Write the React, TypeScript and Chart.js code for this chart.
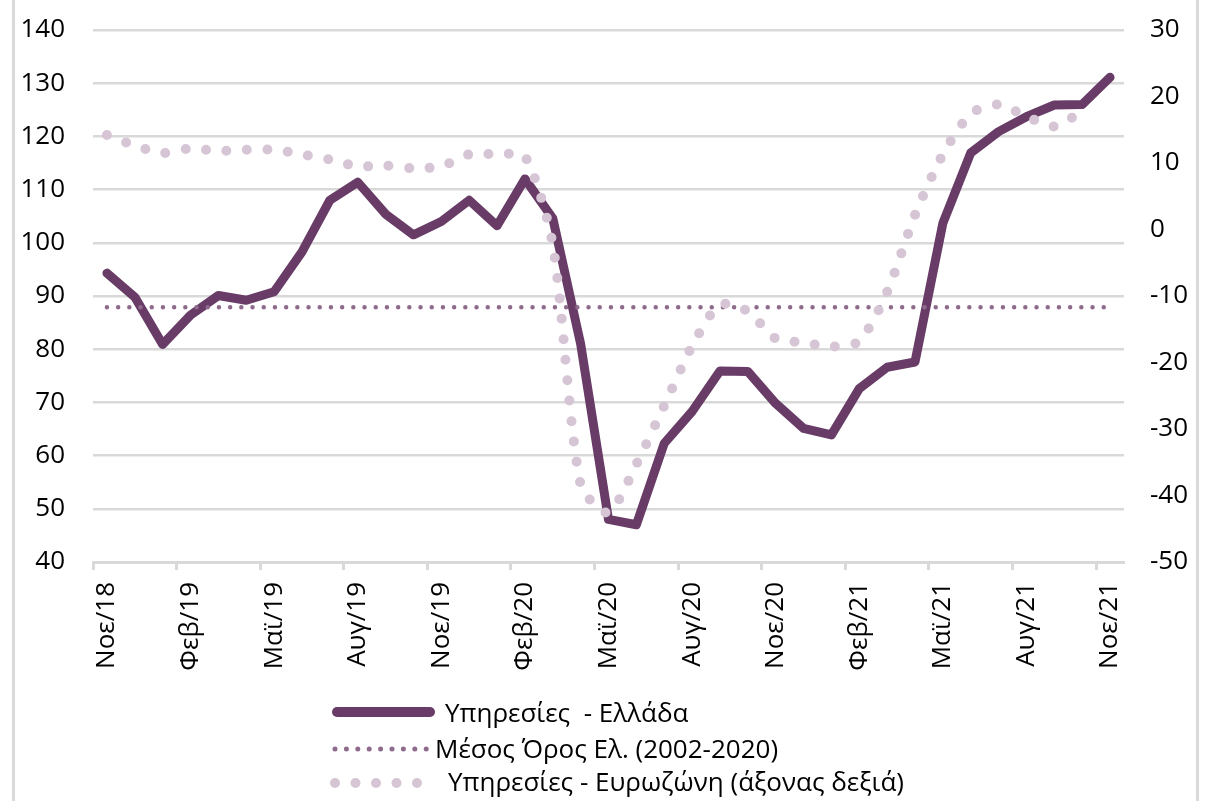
import React, { useEffect, useRef } from 'react';
import { Chart, registerables } from 'chart.js';

Chart.register(...registerables);

const categories: string[] = [
  'Νοε/18', 'Δεκ/18',
  'Ιαν/19', 'Φεβ/19', 'Μαρ/19', 'Απρ/19', 'Μαϊ/19', 'Ιουν/19', 'Ιουλ/19', 'Αυγ/19', 'Σεπ/19', 'Οκτ/19', 'Νοε/19', 'Δεκ/19',
  'Ιαν/20', 'Φεβ/20', 'Μαρ/20', 'Απρ/20', 'Μαϊ/20', 'Ιουν/20', 'Ιουλ/20', 'Αυγ/20', 'Σεπ/20', 'Οκτ/20', 'Νοε/20', 'Δεκ/20',
  'Ιαν/21', 'Φεβ/21', 'Μαρ/21', 'Απρ/21', 'Μαϊ/21', 'Ιουν/21', 'Ιουλ/21', 'Αυγ/21', 'Σεπ/21', 'Οκτ/21', 'Νοε/21',
];

// Υπηρεσίες - Ελλάδα (left axis)
const greeceServices: number[] = [
  94.3, 89.8,
  80.9, 86.4, 90.1, 89.2, 90.8, 98.3, 108.0, 111.4, 105.4, 101.5, 104.0, 108.0,
  103.2, 112.0, 104.6, 81.0, 48.0, 47.0, 62.3, 68.3, 75.9, 75.8, 69.8, 65.1,
  63.9, 72.6, 76.6, 77.6, 103.7, 116.9, 120.9, 123.7, 125.9, 126.0, 131.1,
];

// Μέσος Όρος Ελ. (2002-2020) (left axis)
const greeceAverage: number[] = [
  87.9, 87.9,
  87.9, 87.9, 87.9, 87.9, 87.9, 87.9, 87.9, 87.9, 87.9, 87.9, 87.9, 87.9,
  87.9, 87.9, 87.9, 87.9, 87.9, 87.9, 87.9, 87.9, 87.9, 87.9, 87.9, 87.9,
  87.9, 87.9, 87.9, 87.9, 87.9, 87.9, 87.9, 87.9, 87.9, 87.9, 87.9,
];

// Υπηρεσίες - Ευρωζώνη (right axis)
const euroAreaServices: (number | null)[] = [
  14.2, 12.6,
  11.5, 12.2, 11.8, 12.0, 12.0, 11.3, 10.5, 9.5, 9.6, 9.2, 9.5, 11.3,
  11.3, 11.0, -2.3, -38.4, -42.6, -35.3, -26.5, -17.5, -11.3, -12.3, -16.4, -17.0,
  -17.6, -16.8, -9.4, 2.2, 11.3, 17.4, 18.8, 17.0, 15.5, 17.8, null,
];

const leftTicks = { min: 40, max: 140, step: 10 };
const rightTicks = { min: -50, max: 30, step: 10 };

const legendLabels: string[] = [
  'Υπηρεσίες  - Ελλάδα',
  'Μέσος Όρος Ελ. (2002-2020)',
  'Υπηρεσίες - Ευρωζώνη (άξονας δεξιά)',
];

const DARK = '#683c67';
const MID = '#8e6b8d';
const LIGHT = '#d6c5d5';
const GRID = '#d9d9d9';
const FONT = "'Open Sans', 'Noto Sans', sans-serif";

export default function App() {
  const canvasRef = useRef<HTMLCanvasElement | null>(null);

  useEffect(() => {
    document.body.style.margin = '0';
    const canvas = canvasRef.current;
    if (!canvas) return;
    const chart = new Chart(canvas, {
      type: 'line',
      data: {
        labels: categories,
        datasets: [
          {
            label: legendLabels[2],
            data: euroAreaServices,
            yAxisID: 'y1',
            borderColor: LIGHT,
            borderWidth: 10,
            borderDash: [0, 20.5],
            borderCapStyle: 'round',
            borderJoinStyle: 'round',
            pointRadius: 0,
            tension: 0.25,
            fill: false,
            order: 1,
          },
          {
            label: legendLabels[1],
            data: greeceAverage,
            yAxisID: 'y',
            borderColor: MID,
            borderWidth: 4.5,
            borderDash: [0, 11.2],
            borderCapStyle: 'round',
            pointRadius: 0,
            fill: false,
            order: 2,
          },
          {
            label: legendLabels[0],
            data: greeceServices,
            yAxisID: 'y',
            borderColor: DARK,
            borderWidth: 9,
            borderCapStyle: 'round',
            borderJoinStyle: 'round',
            pointRadius: 0,
            tension: 0,
            fill: false,
            order: 3,
          },
        ],
      },
      options: {
        responsive: false,
        devicePixelRatio: 1,
        animation: false,
        layout: { padding: { top: 30, left: 0, right: 0, bottom: 0 } },
        plugins: {
          legend: { display: false },
          tooltip: { enabled: false },
          title: { display: false },
        },
        scales: {
          x: {
            type: 'category',
            offset: true,
            grid: {
              display: true,
              drawOnChartArea: false,
              drawTicks: true,
              tickLength: 8,
              tickWidth: 3,
              offset: true,
              tickColor: (ctx: any) => (ctx.index % 3 === 0 ? GRID : 'rgba(0,0,0,0)'),
            },
            border: { display: true, color: GRID, width: 3 },
            ticks: {
              autoSkip: false,
              maxRotation: 90,
              minRotation: 90,
              padding: 12,
              color: '#000',
              font: { family: FONT, size: 26 },
              callback: (_v: any, i: number) => (i % 3 === 0 ? categories[i] : ''),
            },
            afterFit: (s: any) => {
              s.height = 239;
              s.paddingLeft = 0;
              s.paddingRight = 0;
            },
          },
          y: {
            position: 'left',
            min: leftTicks.min,
            max: leftTicks.max,
            ticks: {
              stepSize: leftTicks.step,
              padding: 28,
              color: '#000',
              font: { family: FONT, size: 26 },
            },
            grid: { color: GRID, lineWidth: 2.5, drawTicks: false },
            border: { display: false },
            afterFit: (s: any) => {
              s.width = 93;
              s.paddingTop = 0;
              s.paddingBottom = 0;
            },
          },
          y1: {
            position: 'right',
            min: rightTicks.min,
            max: rightTicks.max,
            ticks: {
              stepSize: rightTicks.step,
              padding: 26,
              color: '#000',
              font: { family: FONT, size: 26 },
            },
            grid: { display: false, drawTicks: false },
            border: { display: false },
            afterFit: (s: any) => {
              s.width = 91;
              s.paddingTop = 0;
              s.paddingBottom = 0;
            },
          },
        },
      },
    });
    return () => chart.destroy();
  }, []);

  const textStyle: React.CSSProperties = {
    position: 'absolute',
    fontFamily: FONT,
    fontSize: 26,
    lineHeight: '36px',
    color: '#000',
    whiteSpace: 'pre',
  };

  return (
    <div
      style={{
        position: 'absolute',
        left: 0,
        top: 0,
        width: 1215,
        height: 801,
        overflow: 'hidden',
        background: '#fff',
      }}
    >
      <canvas ref={canvasRef} width={1215} height={801} style={{ display: 'block' }} />
      <div
        style={{
          position: 'absolute',
          left: 12,
          top: -10,
          width: 1187,
          height: 830,
          boxSizing: 'border-box',
          border: `3px solid ${GRID}`,
          pointerEvents: 'none',
        }}
      />
      <svg
        width={1215}
        height={801}
        style={{ position: 'absolute', left: 0, top: 0, pointerEvents: 'none' }}
      >
        <line x1={337} y1={712} x2={430} y2={712} stroke={DARK} strokeWidth={10} strokeLinecap="round" />
        <line
          x1={335}
          y1={749}
          x2={427}
          y2={749}
          stroke={MID}
          strokeWidth={5}
          strokeLinecap="round"
          strokeDasharray="0 11.4"
        />
        <line
          x1={335}
          y1={783}
          x2={418}
          y2={783}
          stroke={LIGHT}
          strokeWidth={10}
          strokeLinecap="round"
          strokeDasharray="0 20.5"
        />
      </svg>
      <div style={{ ...textStyle, left: 445, top: 694 }}>{legendLabels[0]}</div>
      <div style={{ ...textStyle, left: 435, top: 730 }}>{legendLabels[1]}</div>
      <div style={{ ...textStyle, left: 448, top: 763 }}>{legendLabels[2]}</div>
    </div>
  );
}
